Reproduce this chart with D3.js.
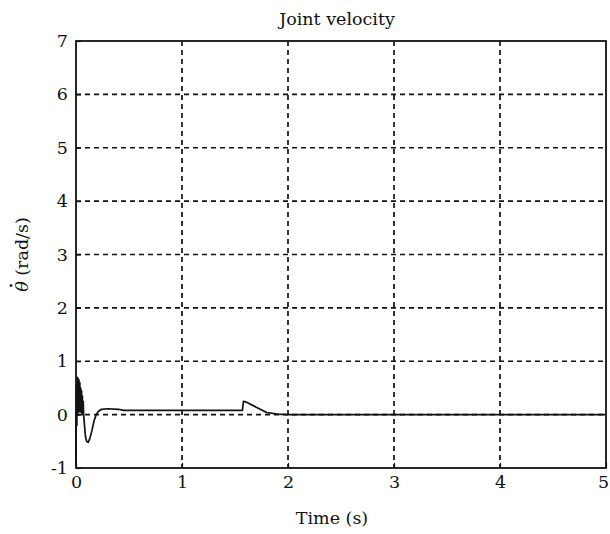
<!DOCTYPE html>
<html>
<head>
<meta charset="utf-8">
<script src="https://cdn.jsdelivr.net/npm/d3@7"></script>
<style>
  body { margin: 0; background: #fff; }
  svg text { font-family: "DejaVu Serif", "Liberation Serif", serif; fill: #111; }
</style>
</head>
<body>
<div id="chart"></div>
<script>
// time samples (s) and joint velocity (rad/s)
let times = [0, 0.004, 0.008, 0.012, 0.016, 0.02, 0.024, 0.028, 0.032, 0.036, 0.04, 0.044, 0.048, 0.052, 0.056, 0.06, 0.064, 0.068, 0.072,
    0.08, 0.09, 0.1, 0.115, 0.13, 0.15, 0.17, 0.19, 0.21, 0.24, 0.3, 0.4, 0.45,
    1.57, 1.58, 1.6, 1.7, 1.8, 1.9, 2.0, 5.0];
let velocity = [-0.95, 0.55, -0.2, 0.7, 0.0, 0.68, 0.05, 0.65, 0.1, 0.6, 0.05, 0.5, 0.05, 0.45, 0.0, 0.35, 0.0, 0.25, 0.0,
    -0.2, -0.42, -0.5, -0.52, -0.45, -0.3, -0.12, 0.0, 0.06, 0.1, 0.11, 0.1, 0.08,
    0.08, 0.25, 0.24, 0.14, 0.04, 0.01, 0.0, 0.0];
let xTicks = [0, 1, 2, 3, 4, 5];
let yTicks = [-1, 0, 1, 2, 3, 4, 5, 6, 7];

let width = 610, height = 534;
let margin = { top: 41, right: 4, bottom: 66, left: 76 };
let w = width - margin.left - margin.right;
let h = height - margin.top - margin.bottom;
let fontSize = '17.5px';

let svg = d3.select('#chart')
    .append('svg')
    .attr('width', width)
    .attr('height', height);

let g = svg.append('g')
    .attr('transform', 'translate(' + margin.left + ',' + margin.top + ')');

let x = d3.scaleLinear().domain([0, 5]).range([0, w]);
let y = d3.scaleLinear().domain([-1, 7]).range([h, 0]);

// dashed grid
g.append('g')
    .selectAll('line')
    .data(xTicks.slice(1, -1))
    .enter().append('line')
    .attr('x1', d => x(d)).attr('x2', d => x(d))
    .attr('y1', 0).attr('y2', h)
    .attr('stroke', '#111')
    .attr('stroke-width', 1.7)
    .attr('stroke-dasharray', '5,4');

g.append('g')
    .selectAll('line')
    .data(yTicks.slice(1, -1))
    .enter().append('line')
    .attr('x1', 0).attr('x2', w)
    .attr('y1', d => y(d)).attr('y2', d => y(d))
    .attr('stroke', '#111')
    .attr('stroke-width', 1.7)
    .attr('stroke-dasharray', '5,4');

// axes with inward ticks
let xAxis = g.append('g')
    .attr('transform', 'translate(0,' + h + ')')
    .call(d3.axisBottom(x).tickValues(xTicks).tickFormat(d => String(d))
        .tickSize(-5).tickSizeOuter(0).tickPadding(8));
let yAxis = g.append('g')
    .call(d3.axisLeft(y).tickValues(yTicks).tickFormat(d => String(d))
        .tickSize(-5).tickSizeOuter(0).tickPadding(8));

[xAxis, yAxis].forEach(a => {
    a.select('.domain').remove();
    a.selectAll('line').attr('stroke', '#111').attr('stroke-width', 1.2);
    a.selectAll('text').style('font-size', fontSize).attr('fill', '#111');
});
// keep the last x label inside the page
xAxis.selectAll('text').filter(d => d === 5).attr('dx', '-3');

// frame
g.append('rect')
    .attr('x', 0).attr('y', 0)
    .attr('width', w).attr('height', h)
    .attr('fill', 'none')
    .attr('stroke', '#111')
    .attr('stroke-width', 1.8);

// trace
let line = d3.line()
    .x((d, i) => x(times[i]))
    .y(d => y(d));

g.append('path')
    .datum(velocity)
    .attr('d', line)
    .attr('fill', 'none')
    .attr('stroke', '#111')
    .attr('stroke-width', 1.7)
    .attr('stroke-linejoin', 'round');

// labels
svg.append('text')
    .attr('x', 337)
    .attr('y', 25)
    .attr('text-anchor', 'middle')
    .style('font-size', fontSize)
    .text('Joint velocity');

svg.append('text')
    .attr('x', 332)
    .attr('y', 524)
    .attr('text-anchor', 'middle')
    .style('font-size', fontSize)
    .text('Time (s)');

let ylab = svg.append('g')
    .attr('transform', 'translate(28,' + (margin.top + h / 2) + ') rotate(-90)');
let ytext = ylab.append('text')
    .attr('text-anchor', 'middle')
    .style('font-size', fontSize);
let thetaSpan = ytext.append('tspan').style('font-style', 'italic').text('\u03B8');
ytext.append('tspan').text(' (rad/s)');
let total = ytext.node().getComputedTextLength();
let thetaW = thetaSpan.node().getComputedTextLength();
ylab.append('circle')
    .attr('cx', -total / 2 + thetaW / 2 + 1)
    .attr('cy', -17)
    .attr('r', 1.4)
    .attr('fill', '#111');
</script>
</body>
</html>
